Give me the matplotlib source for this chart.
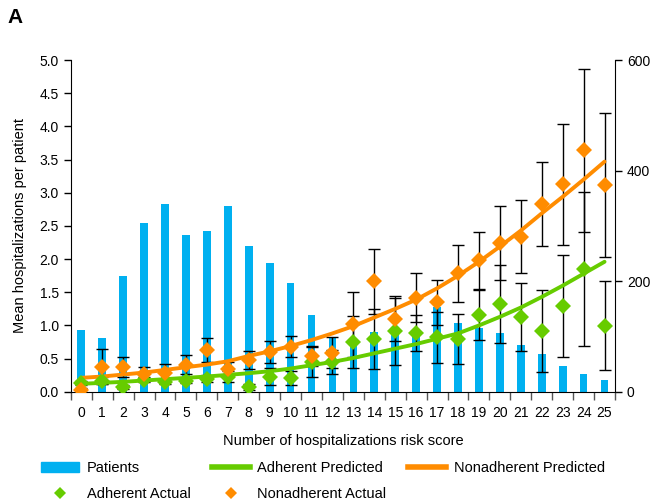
import numpy as np
import matplotlib.pyplot as plt
from matplotlib.lines import Line2D
from matplotlib.patches import Patch

plt.rcParams["font.family"] = ["Liberation Sans", "DejaVu Sans"]

# risk score categories
scores = np.arange(26)

# number of patients per score (right axis)
patients = [112, 98, 209, 306, 340, 283, 290, 336, 264, 233, 197, 139, 99,
            96, 108, 110, 104, 154, 124, 116, 107, 84, 68, 47, 33, 21]

# observed mean hospitalizations and error half-widths
adh_actual = [0.13, 0.17, 0.07, 0.18, 0.15, 0.165, 0.20, 0.23, 0.07, 0.23, 0.21, 0.45, 0.45,
              0.75, 0.80, 0.91, 0.88, 0.82, 0.795, 1.16, 1.32, 1.13, 0.92, 1.29, 1.845, 0.995]
adh_err = [0.03, 0.05, 0.03, 0.04, 0.04, 0.04, 0.05, 0.09, 0.04, 0.13, 0.11, 0.23, 0.18,
           0.39, 0.45, 0.50, 0.27, 0.39, 0.38, 0.375, 0.59, 0.51, 0.62, 0.77, 1.16, 0.67]
non_actual = [0.03, 0.38, 0.38, 0.27, 0.29, 0.41, 0.63, 0.34, 0.48, 0.60, 0.68, 0.54, 0.59,
              1.02, 1.67, 1.10, 1.42, 1.35, 1.79, 1.985, 2.24, 2.34, 2.83, 3.13, 3.64, 3.12]
non_err = [0.03, 0.26, 0.15, 0.10, 0.13, 0.14, 0.18, 0.11, 0.13, 0.17, 0.16, 0.15, 0.23,
           0.49, 0.49, 0.34, 0.37, 0.34, 0.43, 0.43, 0.56, 0.55, 0.63, 0.91, 1.23, 1.09]

# model predictions
adh_pred = [0.12, 0.135, 0.15, 0.17, 0.19, 0.21, 0.23, 0.255, 0.28, 0.31, 0.35, 0.40, 0.45,
            0.51, 0.58, 0.65, 0.72, 0.80, 0.88, 1.00, 1.13, 1.27, 1.43, 1.60, 1.78, 1.96]
non_pred = [0.21, 0.23, 0.26, 0.29, 0.33, 0.37, 0.41, 0.46, 0.54, 0.61, 0.69, 0.78, 0.88,
            0.99, 1.12, 1.25, 1.39, 1.56, 1.75, 1.96, 2.19, 2.43, 2.69, 2.94, 3.20, 3.47]

BLUE = "#00b0f0"
GREEN = "#66cc00"
ORANGE = "#ff8c00"

fig = plt.figure(figsize=(6.56, 5.01), dpi=100)
ax = fig.add_axes([0.108, 0.218, 0.8295, 0.662])
ax2 = ax.twinx()

ax2.bar(scores, patients, width=0.37, color=BLUE, zorder=1)
ax2.set_ylim(0, 600)
ax2.set_yticks([0, 200, 400, 600])

ax.set_zorder(ax2.get_zorder() + 1)
ax.patch.set_visible(False)

ax.errorbar(scores, adh_actual, yerr=adh_err, fmt="none", ecolor="black",
            elinewidth=1, capsize=4, capthick=1, zorder=2)
ax.errorbar(scores, non_actual, yerr=non_err, fmt="none", ecolor="black",
            elinewidth=1, capsize=4, capthick=1, zorder=2)
ax.plot(scores, adh_pred, color=GREEN, lw=2.8, zorder=3, solid_capstyle="round")
ax.plot(scores, non_pred, color=ORANGE, lw=2.8, zorder=3, solid_capstyle="round")
ax.plot(scores, adh_actual, "D", color=GREEN, ms=8.5, mew=0, zorder=4)
ax.plot(scores, non_actual, "D", color=ORANGE, ms=8.5, mew=0, zorder=4)

ax.set_xlim(-0.5, 25.5)
ax.set_ylim(0, 5)
ax.set_yticks(np.arange(0, 5.01, 0.5))
ax.set_yticklabels([f"{v:.1f}" for v in np.arange(0, 5.01, 0.5)])

# boundaries get tick marks, categories get labels
ax.set_xticks(np.arange(-0.5, 26, 1))
ax.set_xticklabels([])
ax.set_xticks(scores, minor=True)
ax.set_xticklabels([str(s) for s in scores], minor=True)
ax.tick_params(axis="x", which="major", length=6, width=1, color="#555555")
ax.tick_params(axis="x", which="minor", length=0, pad=10, labelsize=10)
ax.tick_params(axis="y", length=5, width=1, labelsize=10)
ax2.tick_params(axis="y", length=5, width=1, labelsize=10)

for a in (ax, ax2):
    a.spines["top"].set_visible(False)
ax.spines["right"].set_visible(False)
ax2.spines["left"].set_visible(False)
ax2.spines["bottom"].set_visible(False)

ax.set_ylabel("Mean hospitalizations per patient", fontsize=10.5, labelpad=9)
ax.set_xlabel("Number of hospitalizations risk score", fontsize=10.5, labelpad=10)

fig.text(0.012, 0.955, "A", fontsize=15, fontweight="bold")

handles = [
    Patch(color=BLUE),
    Line2D([], [], marker="D", color=GREEN, ls="none", ms=6, mew=0),
    Line2D([], [], color=GREEN, lw=4),
    Line2D([], [], marker="D", color=ORANGE, ls="none", ms=6, mew=0),
    Line2D([], [], color=ORANGE, lw=4),
]
labels = ["Patients", "Adherent Actual", "Adherent Predicted",
          "Nonadherent Actual", "Nonadherent Predicted"]
fig.legend(handles, labels, ncol=3, loc="lower left", bbox_to_anchor=(0.043, -0.027),
           frameon=False, fontsize=10.5, handlelength=2.6, columnspacing=1.5,
           handletextpad=0.5, labelspacing=0.85)

fig.savefig("out.png", dpi=100)
